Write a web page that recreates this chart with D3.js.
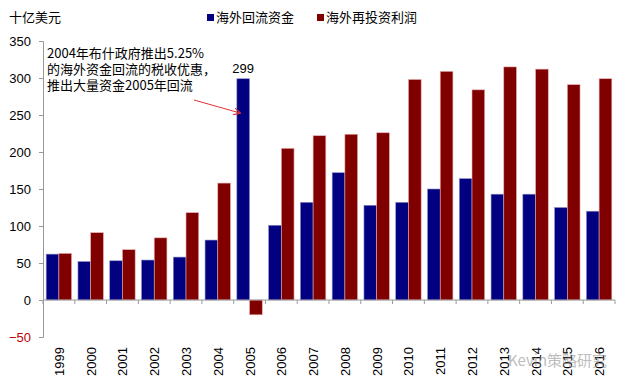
<!DOCTYPE html>
<html>
<head>
<meta charset="utf-8">
<script src="https://cdn.jsdelivr.net/npm/d3@7/dist/d3.min.js"></script>
<style>
  body { margin: 0; background: #fff; }
  text { font-family: "Liberation Sans", Arial, "Noto Sans CJK SC", sans-serif; }
  .cn { font-family: "Noto Sans CJK SC", sans-serif; }
</style>
</head>
<body>
<div id="chart"></div>
<script>
var years = ['1999','2000','2001','2002','2003','2004','2005','2006','2007','2008',
             '2009','2010','2011','2012','2013','2014','2015','2016']
var repatriated = [62, 52, 53, 54, 58, 81, 299, 101, 132, 172, 128, 132, 150, 164, 143, 143, 125, 120]
var reinvested  = [63, 91, 68, 84, 118, 158, -20, 205, 222, 224, 226, 298, 309, 284, 315, 312, 291, 299]
var yTicks = [-50, 0, 50, 100, 150, 200, 250, 300, 350]
var seriesNames = ['海外回流资金', '海外再投资利润']
var colors = ['#000080', '#800000']
var noteLines = ['2004年布什政府推出5.25%', '的海外资金回流的税收优惠，', '推出大量资金2005年回流']

var W = 625, H = 388
var svg = d3.select('#chart').append('svg').attr('width', W).attr('height', H)

var x = d3.scaleBand().domain(years).range([43, 615]).paddingInner(0.2).paddingOuter(0.1)
var y = d3.scaleLinear().domain([-50, 350]).range([337, 41])
var x1 = d3.scaleBand().domain([0, 1]).range([0, x.bandwidth()])

// y axis
var yAxis = svg.append('g').attr('transform', 'translate(43,0)')
  .call(d3.axisLeft(y).tickValues(yTicks).tickSize(4).tickPadding(8))
yAxis.select('.domain').attr('stroke', '#999')
yAxis.selectAll('.tick line').attr('stroke', '#999')
yAxis.selectAll('.tick text').attr('font-size', 13).attr('fill', function(d){ return d < 0 ? '#c00000' : '#000' })

// bars
var groups = svg.append('g').selectAll('g').data(years).join('g')
  .attr('transform', function(d){ return 'translate(' + x(d) + ',0)' })
groups.selectAll('rect').data(function(d, i){ return [repatriated[i], reinvested[i]] }).join('rect')
  .attr('x', function(d, j){ return x1(j) })
  .attr('width', x1.bandwidth())
  .attr('y', function(d){ return y(Math.max(0, d)) })
  .attr('height', function(d){ return Math.abs(y(d) - y(0)) })
  .attr('fill', function(d, j){ return colors[j] })
  .attr('stroke', function(d, j){ return j ? '#e8b0b0' : '#9090c8' })
  .attr('stroke-width', 0.6)

// x axis at zero
var step = x.step()
var xl = svg.append('g')
xl.append('line').attr('x1', 43).attr('x2', 615).attr('y1', y(0)).attr('y2', y(0)).attr('stroke', '#999')
xl.selectAll('line.t').data(d3.range(years.length + 1)).join('line').attr('class', 't')
  .attr('x1', function(i){ return 43 + i * (572 / years.length) })
  .attr('x2', function(i){ return 43 + i * (572 / years.length) })
  .attr('y1', y(0)).attr('y2', y(0) + 4).attr('stroke', '#999')
svg.append('g').selectAll('text').data(years).join('text')
  .attr('transform', function(d){ return 'translate(' + (x(d) + x.bandwidth() / 2 + 5) + ',347) rotate(-90)' })
  .attr('text-anchor', 'end').attr('font-size', 13).text(function(d){ return d })

// unit + legend
svg.append('text').attr('class', 'cn').attr('x', 9).attr('y', 22).attr('font-size', 13).text('十亿美元')
var leg = svg.append('g').selectAll('g').data(seriesNames).join('g')
  .attr('transform', function(d, i){ return 'translate(' + (207 + i * 110) + ',0)' })
leg.append('rect').attr('y', 14).attr('width', 7).attr('height', 7).attr('fill', function(d, i){ return colors[i] })
leg.append('text').attr('class', 'cn').attr('x', 9).attr('y', 22).attr('font-size', 13).text(function(d){ return d })

// annotation
svg.append('g').selectAll('text').data(noteLines).join('text').attr('class', 'cn')
  .attr('x', 47).attr('y', function(d, i){ return 58 + i * 16 }).attr('font-size', 13).text(function(d){ return d })
svg.append('text').attr('x', x('2005') + x1(0) + x1.bandwidth() / 2).attr('y', y(299) - 6)
  .attr('text-anchor', 'middle').attr('font-size', 13).text(repatriated[6])

svg.append('defs').append('marker').attr('id', 'arr').attr('viewBox', '0 0 10 10')
  .attr('refX', 9).attr('refY', 5).attr('markerWidth', 7).attr('markerHeight', 7).attr('orient', 'auto')
  .append('path').attr('d', 'M0,0 L10,5 L0,10').attr('fill', 'none').attr('stroke', '#e03030').attr('stroke-width', 1.5)
svg.append('line').attr('x1', 194).attr('y1', 100).attr('x2', 240).attr('y2', 113)
  .attr('stroke', '#e03030').attr('stroke-width', 1).attr('marker-end', 'url(#arr)')

// watermark
svg.append('text').attr('class', 'cn').attr('x', 508).attr('y', 366).attr('font-size', 15)
  .attr('fill', '#888').attr('opacity', 0.55).text('Kevin策略研究')
</script>
</body>
</html>
